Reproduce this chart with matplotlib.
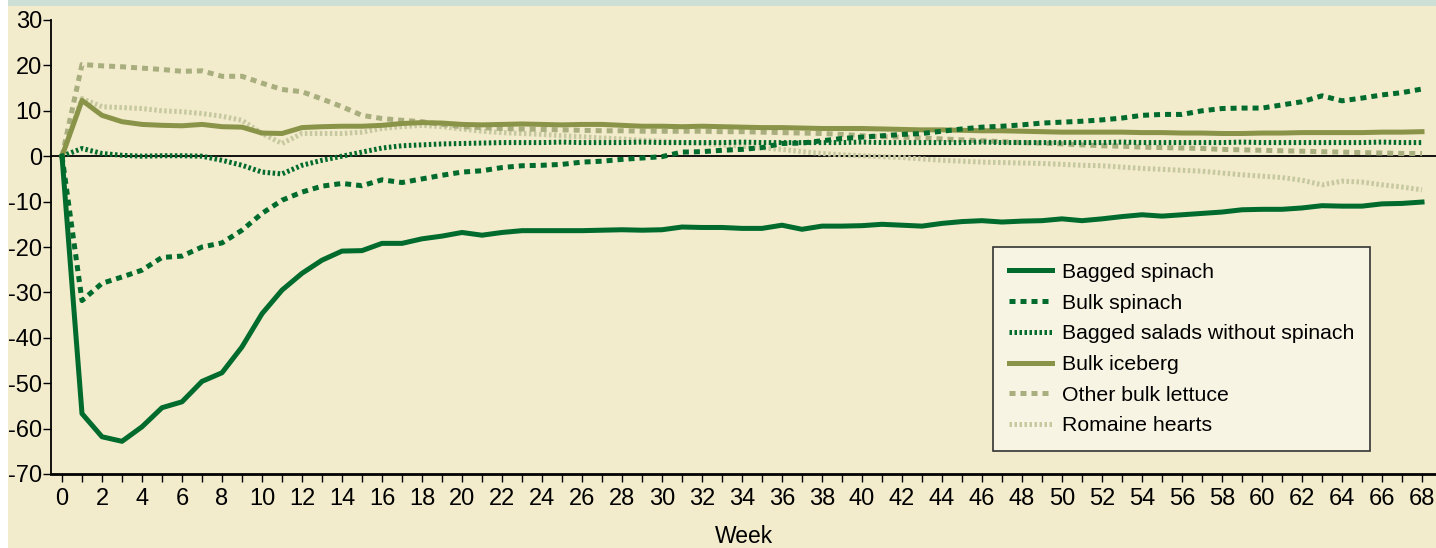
import numpy as np
import matplotlib
matplotlib.use("Agg")
import matplotlib.pyplot as plt
from matplotlib.patches import Rectangle

plt.rcParams['font.family'] = ['Liberation Sans', 'DejaVu Sans']
plt.rcParams['axes.unicode_minus'] = False

# weekly % change, weeks 0..68
weeks = list(range(69))

bagged_spinach = [0, -56.7, -61.8, -62.8, -59.6, -55.4, -54.1, -49.6, -47.7, -42.0,
                  -34.7, -29.5, -25.8, -22.9, -20.9, -20.8, -19.2, -19.2, -18.2, -17.6,
                  -16.8, -17.4, -16.8, -16.4, -16.4, -16.4, -16.4, -16.3, -16.2, -16.3,
                  -16.2, -15.6, -15.7, -15.7, -15.9, -15.9, -15.2, -16.1, -15.4, -15.4,
                  -15.3, -15.0, -15.2, -15.4, -14.8, -14.4, -14.2, -14.5, -14.3, -14.2,
                  -13.8, -14.2, -13.8, -13.3, -12.9, -13.2, -12.9, -12.6, -12.3, -11.8,
                  -11.7, -11.7, -11.4, -10.9, -11.0, -11.0, -10.5, -10.4, -10.1]

bulk_spinach = [0, -31.8, -28.0, -26.6, -25.1, -22.3, -22.0, -20.0, -19.1, -16.3,
                -12.6, -9.7, -7.9, -6.6, -6.0, -6.5, -5.2, -5.8, -5.0, -4.2,
                -3.5, -3.2, -2.5, -2.1, -2.0, -1.8, -1.3, -1.1, -0.7, -0.4,
                -0.1, 0.9, 1.0, 1.3, 1.5, 1.9, 2.8, 2.9, 3.4, 3.9,
                4.2, 4.5, 4.8, 5.0, 5.5, 6.0, 6.4, 6.6, 6.9, 7.3,
                7.5, 7.7, 8.0, 8.4, 9.0, 9.2, 9.2, 10.0, 10.5, 10.6,
                10.6, 11.3, 12.0, 13.3, 12.2, 12.8, 13.5, 14.0, 14.8]

bagged_salads = [0, 1.7, 0.6, 0.2, 0.0, 0.1, 0.1, 0.0, -0.9, -2.0,
                 -3.5, -3.9, -2.0, -0.9, 0.0, 0.9, 1.8, 2.3, 2.5, 2.7,
                 2.8, 2.9, 3.0, 3.0, 3.0, 3.1, 3.0, 3.0, 3.0, 3.1,
                 3.0, 3.0, 3.0, 3.0, 3.1, 3.0, 3.0, 3.0, 3.0, 3.0,
                 3.1, 3.0, 3.0, 3.0, 3.0, 3.0, 3.1, 3.0, 3.0, 3.0,
                 3.0, 3.0, 3.0, 3.1, 3.0, 3.0, 3.0, 3.0, 3.0, 3.1,
                 3.0, 3.0, 3.0, 3.0, 3.0, 3.0, 3.1, 3.0, 3.0]

bulk_iceberg = [0, 12.3, 9.0, 7.6, 7.0, 6.8, 6.7, 7.0, 6.5, 6.4,
                5.1, 5.0, 6.3, 6.5, 6.6, 6.6, 6.8, 7.2, 7.4, 7.3,
                7.0, 6.9, 7.0, 7.1, 7.0, 6.9, 7.0, 7.0, 6.8, 6.6,
                6.6, 6.5, 6.6, 6.5, 6.4, 6.3, 6.3, 6.2, 6.1, 6.1,
                6.1, 6.0, 5.9, 5.8, 5.8, 5.7, 5.6, 5.6, 5.5, 5.4,
                5.3, 5.3, 5.3, 5.3, 5.2, 5.2, 5.1, 5.1, 5.0, 5.0,
                5.1, 5.1, 5.2, 5.2, 5.2, 5.2, 5.3, 5.3, 5.4]

other_bulk_lettuce = [0, 20.2, 19.9, 19.7, 19.4, 19.1, 18.7, 18.8, 17.6, 17.6,
                      16.1, 14.7, 14.2, 12.6, 10.9, 9.0, 8.3, 7.9, 7.6, 7.0,
                      6.5, 6.3, 6.1, 6.0, 5.9, 5.8, 5.7, 5.6, 5.6, 5.5,
                      5.5, 5.5, 5.5, 5.4, 5.4, 5.3, 5.2, 5.1, 5.0, 4.8,
                      4.5, 4.3, 4.2, 4.0, 3.8, 3.6, 3.4, 3.2, 3.0, 2.9,
                      2.7, 2.5, 2.3, 2.2, 2.0, 1.9, 1.8, 1.7, 1.5, 1.4,
                      1.3, 1.2, 1.1, 1.0, 0.9, 0.8, 0.7, 0.6, 0.6]

romaine_hearts = [0, 12.7, 10.9, 10.7, 10.5, 10.0, 9.8, 9.4, 8.8, 7.9,
                  5.0, 2.8, 5.0, 5.0, 5.0, 5.3, 6.1, 6.5, 6.8, 6.5,
                  6.0, 5.5, 5.2, 5.0, 4.8, 4.5, 4.3, 4.0, 3.8, 3.5,
                  3.3, 3.0, 2.8, 2.5, 2.2, 1.8, 1.5, 1.0, 0.6, 0.3,
                  0.1, -0.1, -0.3, -0.6, -0.9, -1.1, -1.3, -1.4, -1.5, -1.6,
                  -1.8, -2.0, -2.1, -2.4, -2.7, -2.9, -3.1, -3.3, -3.7, -4.1,
                  -4.4, -4.7, -5.3, -6.3, -5.5, -5.7, -6.3, -6.8, -7.4]

bg = '#f2ebcc'
dark_green = '#006b2d'
olive = '#8a9448'
light_olive = '#a9ae7e'
pale_olive = '#c6c99f'

fig = plt.figure(figsize=(14.36, 5.48), dpi=100, facecolor='white')
# beige panel with thin teal strip on top
fig.patches.append(Rectangle((8/1436, 0), 1, 1 - 6/548, transform=fig.transFigure,
                             facecolor=bg, edgecolor='none', zorder=-10))
fig.patches.append(Rectangle((8/1436, 1 - 6/548), 1, 6/548, transform=fig.transFigure,
                             facecolor='#cde0d6', edgecolor='none', zorder=-10))

ax = fig.add_axes([51/1436, 74/548, 1385/1436, 454/548])
ax.set_facecolor('none')

ax.axhline(0, color='black', lw=1.3, zorder=1)

ax.plot(weeks, romaine_hearts, color=pale_olive, lw=3.6, ls=(0, (0.5, 0.5)),
        dash_capstyle='butt', label='Romaine hearts', zorder=2)
ax.plot(weeks, other_bulk_lettuce, color=light_olive, lw=3.6, ls=(0, (1.2, 1.0)),
        dash_capstyle='butt', label='Other bulk lettuce', zorder=2)
ax.plot(weeks, bulk_iceberg, color=olive, lw=3.6, solid_joinstyle='round',
        label='Bulk iceberg', zorder=3)
ax.plot(weeks, bagged_salads, color=dark_green, lw=3.6, ls=(0, (0.5, 0.5)),
        dash_capstyle='butt', label='Bagged salads without spinach', zorder=4)
ax.plot(weeks, bulk_spinach, color=dark_green, lw=3.6, ls=(0, (1.2, 1.0)),
        dash_capstyle='butt', label='Bulk spinach', zorder=4)
ax.plot(weeks, bagged_spinach, color=dark_green, lw=3.6, solid_joinstyle='round',
        label='Bagged spinach', zorder=5)

ax.set_xlim(-0.55, 68.7)
ax.set_ylim(-70, 30)
ax.set_yticks(range(-70, 31, 10))
ax.set_xticks(range(0, 69, 2))
ax.set_xticks(range(0, 69), minor=True)
ax.tick_params(axis='both', labelsize=17, colors='black', width=1, length=6)
ax.tick_params(axis='y', pad=0.5)
ax.tick_params(axis='x', which='minor', length=6, width=1)
ax.tick_params(axis='x', pad=4)

for s in ['top', 'right']:
    ax.spines[s].set_visible(False)
ax.spines['left'].set_linewidth(1.3)
ax.spines['bottom'].set_linewidth(2)

ax.set_xlabel('Week', fontsize=16.5, labelpad=11)

handles, labels = ax.get_legend_handles_labels()
order = [5, 4, 3, 2, 1, 0]
leg = ax.legend([handles[i] for i in order], [labels[i] for i in order],
                loc='lower left', bbox_to_anchor=(0.68, 0.05), fontsize=15.3,
                frameon=True, fancybox=False, edgecolor='#333333',
                facecolor='#f8f4e3', framealpha=1, handlelength=2.05,
                handletextpad=0.45, labelspacing=0.55, borderpad=0.75,
                borderaxespad=0)
leg.get_frame().set_linewidth(1.2)
for ln in leg.get_lines():
    ln.set_linewidth(3.6)

fig.savefig('out.png', dpi=100, facecolor=fig.get_facecolor())
